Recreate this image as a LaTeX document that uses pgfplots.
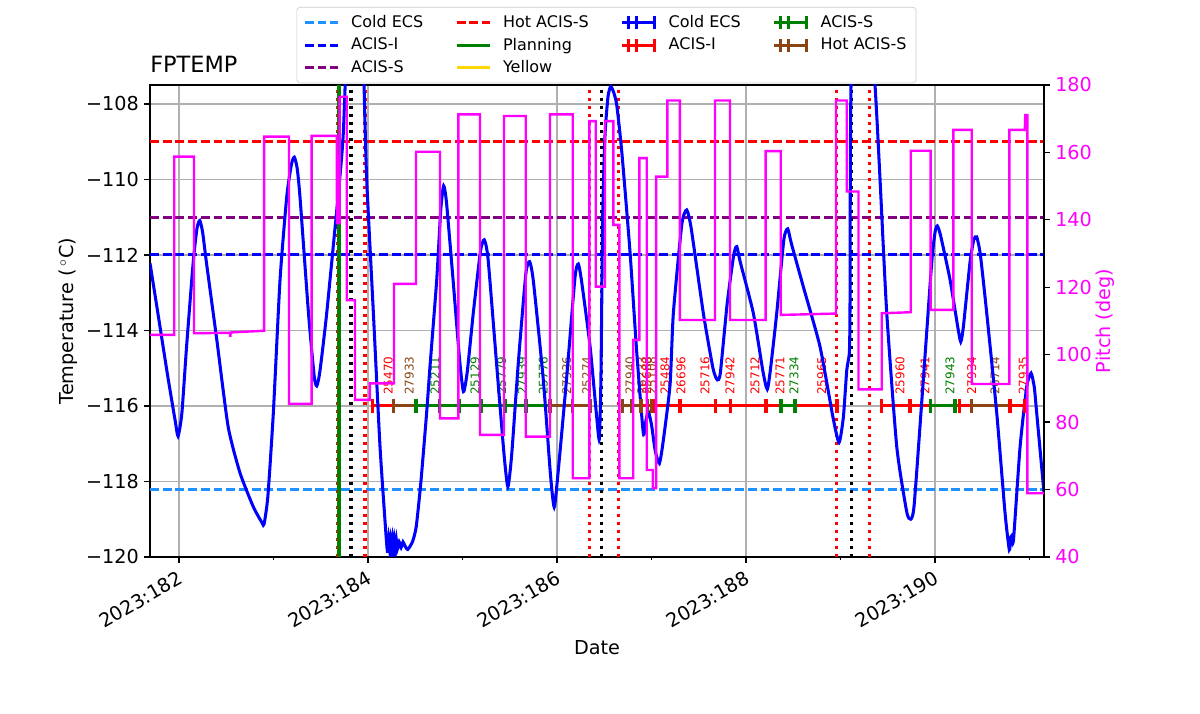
\documentclass[border=0pt]{standalone}
\usepackage{fontspec}
\setmainfont{DejaVu Sans}
\usepackage{pgfplots}
\pgfplotsset{compat=1.18}
\definecolor{dodgerblue}{RGB}{30,144,255}
\definecolor{sbrown}{RGB}{139,69,19}
\definecolor{mgreen}{RGB}{0,128,0}
\definecolor{mpurple}{RGB}{128,0,128}
\definecolor{gold}{RGB}{255,215,0}
\definecolor{mmag}{RGB}{255,0,255}
\definecolor{gridgray}{RGB}{176,176,176}
\definecolor{legframe}{RGB}{204,204,204}
\tikzset{mdash/.style={dash pattern=on 5.55pt off 2.4pt},
  mdot/.style={dash pattern=on 1.9pt off 3.1pt},
  oblab/.style={rotate=90, anchor=west, inner sep=0pt, font=\fontsize{7.5}{9}\selectfont}}
\newcommand{\ebimg}[1]{\addlegendimage{legend image code/.code={\draw[#1,line width=1.9pt] (0pt,0pt)--(21pt,0pt) (4pt,-4pt)--(4pt,4pt) (9pt,-4pt)--(9pt,4pt) (20pt,-4pt)--(20pt,4pt);}}}
\begin{document}
\begin{tikzpicture}
\path[use as bounding box] (-93.75pt,-98.125pt) rectangle (656.25pt,348.125pt);
\begin{axis}[
  at={(0,0)}, anchor=south west,
  scale only axis, width=558.75pt, height=295pt,
  xmin=181.693, xmax=191.153, ymin=-120, ymax=-107.5,
  xtick={182,184,186,188,190},
  xticklabels={2023:182,2023:184,2023:186,2023:188,2023:190},
  minor xtick={183,185,187,189,191},
  ytick={-120,-118,-116,-114,-112,-110,-108},
  yticklabels={−120,−118,−116,−114,−112,−110,−108},
  xtick pos=left, ytick pos=left,
  grid=major, major grid style={color=gridgray, line width=1pt},
  tick align=outside, major tick length=3.5pt, minor tick length=2pt,
  every tick/.style={black, line width=0.8pt},
  axis line style={line width=0.8pt},
  xticklabel style={rotate=30, anchor=north east, font=\fontsize{12}{14}\selectfont},
  yticklabel style={font=\fontsize{12}{14}\selectfont},
  xlabel={Date}, ylabel={Temperature ($\,^\circ$C)},
  every axis x label/.style={at={(axis description cs:0.5,-0.193)}, anchor=center, font=\fontsize{12}{14}\selectfont},
  every axis y label/.style={at={(axis description cs:-0.0917,0.5)}, rotate=90, anchor=center, font=\fontsize{12}{14}\selectfont},
  title={FPTEMP},
  title style={at={(axis description cs:0,1)}, anchor=base west, yshift=1.5pt, inner sep=0pt, font=\fontsize{14}{16}\selectfont},
  legend columns=4,
  legend image code/.code={\draw[#1] (0pt,0pt) -- (21pt,0pt);},
  legend style={at={(axis description cs:0.5106,1.1653)}, anchor=north,
    font=\fontsize{10}{12}\selectfont, draw=legframe, rounded corners=2pt,
    inner xsep=4pt, inner ysep=3pt, row sep=1pt,
    /tikz/every odd column/.append style={column sep=5pt},
    /tikz/every even column/.append style={column sep=18pt}},
  legend cell align=left,
]
% legend (row-major order)
\addlegendimage{dodgerblue, mdash, line width=1.9pt}\addlegendentry{Cold ECS}
\addlegendimage{red, mdash, line width=1.9pt}\addlegendentry{Hot ACIS-S}
\ebimg{blue}\addlegendentry{Cold ECS}
\ebimg{mgreen}\addlegendentry{ACIS-S}
\addlegendimage{blue, mdash, line width=1.9pt}\addlegendentry{ACIS-I}
\addlegendimage{mgreen, line width=1.9pt}\addlegendentry{Planning}
\ebimg{red}\addlegendentry{ACIS-I}
\ebimg{sbrown}\addlegendentry{Hot ACIS-S}
\addlegendimage{mpurple, mdash, line width=1.9pt}\addlegendentry{ACIS-S}
\addlegendimage{gold, line width=1.9pt}\addlegendentry{Yellow}

% limit lines
\addplot[forget plot, dodgerblue, mdash, line width=1.9pt] coordinates {(181.693,-118.2) (191.153,-118.2)};
\addplot[forget plot, blue, mdash, line width=1.9pt] coordinates {(181.693,-112) (191.153,-112)};
\addplot[forget plot, mpurple, mdash, line width=1.9pt] coordinates {(181.693,-111) (191.153,-111)};
\addplot[forget plot, red, mdash, line width=1.9pt] coordinates {(181.693,-109) (191.153,-109)};

% vertical lines
\addplot[forget plot, red, mdot, line width=1.9pt] coordinates {(183.672,-120) (183.672,-107.5)};
\addplot[forget plot, red, mdot, line width=1.9pt] coordinates {(183.968,-120) (183.968,-107.5)};
\addplot[forget plot, red, mdot, line width=1.9pt] coordinates {(186.339,-120) (186.339,-107.5)};
\addplot[forget plot, red, mdot, line width=1.9pt] coordinates {(186.653,-120) (186.653,-107.5)};
\addplot[forget plot, red, mdot, line width=1.9pt] coordinates {(188.956,-120) (188.956,-107.5)};
\addplot[forget plot, red, mdot, line width=1.9pt] coordinates {(189.309,-120) (189.309,-107.5)};
\addplot[forget plot, black, mdot, line width=1.9pt] coordinates {(183.820,-120) (183.820,-107.5)};
\addplot[forget plot, black, mdot, line width=1.9pt] coordinates {(186.466,-120) (186.466,-107.5)};
\addplot[forget plot, black, mdot, line width=1.9pt] coordinates {(189.114,-120) (189.114,-107.5)};
\addplot[forget plot, mgreen, line width=1.9pt] coordinates {(183.693,-120) (183.693,-107.5)};

% obsid segments
\addplot[forget plot, red, line width=1.9pt] coordinates {(184.046,-116) (184.272,-116)};
\addplot[forget plot, sbrown, line width=1.9pt] coordinates {(184.272,-116) (184.508,-116)};
\addplot[forget plot, mgreen, line width=1.9pt] coordinates {(184.508,-116) (185.926,-116)};
\addplot[forget plot, sbrown, line width=1.9pt] coordinates {(185.926,-116) (186.349,-116)};
\addplot[forget plot, sbrown, line width=1.9pt] coordinates {(186.691,-116) (186.889,-116)};
\addplot[forget plot, red, line width=1.9pt] coordinates {(186.889,-116) (188.960,-116)};
\addplot[forget plot, mgreen, line width=1.9pt] coordinates {(188.370,-116) (188.519,-116)};
\addplot[forget plot, red, line width=1.9pt] coordinates {(189.436,-116) (190.952,-116)};
\addplot[forget plot, mgreen, line width=1.9pt] coordinates {(189.954,-116) (190.212,-116)};
\addplot[forget plot, sbrown, line width=1.9pt] coordinates {(190.388,-116) (190.794,-116)};
\addplot[forget plot, red, only marks, mark=|, mark size=4.4pt, mark options={line width=2.2pt}] coordinates {
(184.046,-116) (187.034,-116) (187.302,-116) (187.679,-116) (187.838,-116) (188.212,-116)
(188.960,-116) (189.436,-116) (189.735,-116) (190.257,-116) (190.794,-116) (190.952,-116)};
\addplot[forget plot, sbrown, only marks, mark=|, mark size=4.4pt, mark options={line width=2.2pt}] coordinates {
(184.272,-116) (185.926,-116) (186.162,-116) (186.349,-116) (186.691,-116) (186.790,-116)
(186.889,-116) (186.956,-116) (186.998,-116) (190.388,-116)};
\addplot[forget plot, mgreen, only marks, mark=|, mark size=4.4pt, mark options={line width=2.2pt}] coordinates {
(184.508,-116) (184.754,-116) (184.966,-116) (185.193,-116) (185.447,-116) (185.669,-116)
(188.370,-116) (188.519,-116) (189.954,-116) (190.212,-116)};

% obsid labels
\node[oblab, text=red] at (axis cs:184.215,-115.71) {25470};
\node[oblab, text=sbrown] at (axis cs:184.437,-115.71) {27933};
\node[oblab, text=mgreen] at (axis cs:184.709,-115.71) {25211};
\node[oblab, text=mgreen] at (axis cs:185.132,-115.71) {25129};
\node[oblab, text=mgreen] at (axis cs:185.415,-115.71) {25779};
\node[oblab, text=mgreen] at (axis cs:185.633,-115.71) {27939};
\node[oblab, text=mgreen] at (axis cs:185.855,-115.71) {25776};
\node[oblab, text=sbrown] at (axis cs:186.103,-115.71) {27936};
\node[oblab, text=sbrown] at (axis cs:186.314,-115.71) {25274};
\node[oblab, text=sbrown] at (axis cs:186.772,-115.71) {27940};
\node[oblab, text=sbrown] at (axis cs:186.896,-115.71) {26233};
\node[oblab, text=red] at (axis cs:186.949,-115.71) {25688};
\node[oblab, text=sbrown] at (axis cs:187.002,-115.71) {25108};
\node[oblab, text=red] at (axis cs:187.143,-115.71) {25484};
\node[oblab, text=red] at (axis cs:187.312,-115.71) {26696};
\node[oblab, text=red] at (axis cs:187.566,-115.71) {25716};
\node[oblab, text=red] at (axis cs:187.831,-115.71) {27942};
\node[oblab, text=red] at (axis cs:188.095,-115.71) {25712};
\node[oblab, text=red] at (axis cs:188.360,-115.71) {25771};
\node[oblab, text=mgreen] at (axis cs:188.508,-115.71) {27334};
\node[oblab, text=red] at (axis cs:188.801,-115.71) {25965};
\node[oblab, text=red] at (axis cs:189.630,-115.71) {25960};
\node[oblab, text=red] at (axis cs:189.894,-115.71) {27941};
\node[oblab, text=mgreen] at (axis cs:190.159,-115.71) {27943};
\node[oblab, text=red] at (axis cs:190.388,-115.71) {27934};
\node[oblab, text=sbrown] at (axis cs:190.635,-115.71) {26714};
\node[oblab, text=red] at (axis cs:190.934,-115.71) {27935};

% temperature
\addplot[forget plot, blue, line width=1.9pt, smooth, tension=0.35] coordinates {
(181.693,-112.22) (181.78,-113.6) (181.88,-115.2) (181.96,-116.4) (181.99,-116.8) (182.03,-116.2)
(182.08,-114.43) (182.15,-112.2) (182.19,-111.3) (182.22,-111.09) (182.25,-111.4) (182.29,-112.2)
(182.40,-114.25) (182.52,-116.55) (182.645,-117.77) (182.786,-118.67) (182.88,-119.1) (182.90,-119.13)
(182.94,-118.4) (182.998,-116.19) (183.069,-112.66) (183.14,-110.46) (183.19,-109.6) (183.22,-109.41)
(183.25,-109.7) (183.28,-110.46) (183.37,-113.54) (183.43,-115.2) (183.457,-115.47) (183.49,-115.1)
(183.563,-113.54) (183.70,-110) (183.74,-108.7) (183.79,-105.5) (183.87,-103.5) (183.94,-105.5)
(183.958,-107.5) (183.986,-110) (184.056,-113.5) (184.127,-117.08) (184.197,-119.64)
(184.21,-119.85) (184.22,-119.5) (184.23,-119.85) (184.24,-119.55) (184.25,-119.8) (184.26,-119.5)
(184.27,-119.85) (184.28,-119.55) (184.29,-119.8) (184.30,-119.55) (184.31,-119.8) (184.33,-119.6)
(184.35,-119.75) (184.37,-119.6) (184.39,-119.7) (184.42,-119.8) (184.47,-119.6) (184.51,-119.2)
(184.56,-118.0) (184.62,-116.19) (184.656,-114.95) (184.727,-112.66) (184.77,-110.8) (184.80,-110.17)
(184.83,-110.6) (184.90,-112.66) (184.97,-114.8) (185.01,-115.62) (185.05,-115.1) (185.114,-113.54)
(185.19,-111.9) (185.23,-111.6) (185.27,-112.1) (185.36,-114.87) (185.44,-117.3) (185.48,-118.14)
(185.52,-117.3) (185.59,-114.87) (185.67,-112.5) (185.71,-112.18) (185.75,-112.7) (185.855,-115.31)
(185.93,-117.8) (185.97,-118.68) (186.01,-117.8) (186.10,-115.31) (186.19,-112.6) (186.225,-112.24)
(186.26,-112.7) (186.35,-114.43) (186.42,-116.3) (186.448,-116.88) (186.465,-115.2) (186.483,-111.03)
(186.508,-108.82) (186.54,-107.8) (186.568,-107.54) (186.60,-107.7) (186.632,-108.03) (186.685,-109.26)
(186.772,-111.91) (186.843,-114.56) (186.913,-116.72) (186.94,-116.4) (186.966,-116.15) (187.00,-116.5)
(187.04,-117.2) (187.083,-117.52) (187.12,-117.0) (187.196,-115.44) (187.231,-113.54) (187.32,-111.2)
(187.372,-110.81) (187.42,-111.3) (187.548,-113.54) (187.65,-115.0) (187.696,-115.31) (187.728,-115.13)
(187.80,-113.3) (187.87,-112.0) (187.902,-111.78) (187.94,-112.2) (188.077,-113.54) (188.18,-115.1)
(188.225,-115.56) (188.26,-115.0) (188.325,-113.54) (188.40,-111.6) (188.441,-111.31) (188.48,-111.7)
(188.606,-112.84) (188.783,-114.43) (188.92,-116.3) (188.984,-116.97) (189.03,-116.3) (189.066,-115.05)
(189.093,-114.6) (189.10,-113.5) (189.111,-107.5) (189.20,-101) (189.365,-107.5) (189.418,-110)
(189.489,-113.54) (189.595,-117.08) (189.70,-118.8) (189.743,-119.0) (189.78,-118.6) (189.876,-115.31)
(189.965,-112.2) (190.00,-111.4) (190.024,-111.23) (190.06,-111.5) (190.159,-112.66) (190.24,-113.9)
(190.272,-114.30) (190.30,-113.9) (190.37,-112.2) (190.41,-111.6) (190.441,-111.52) (190.48,-112.0)
(190.547,-113.54) (190.653,-116.19) (190.741,-118.84) (190.786,-119.81) (190.80,-119.5) (190.81,-119.44)
(190.83,-119.55) (190.90,-117.08) (190.97,-115.49) (191.016,-115.13) (191.05,-115.5) (191.076,-116.19)
(191.153,-118.3)};
\end{axis}

\begin{axis}[
  at={(0,0)}, anchor=south west,
  scale only axis, width=558.75pt, height=295pt,
  xmin=181.693, xmax=191.153, ymin=40, ymax=180,
  axis y line*=right, axis x line=none,
  ytick={40,60,80,100,120,140,160,180},
  tick align=outside, major tick length=3.5pt,
  every tick/.style={black, line width=0.8pt},
  axis line style={line width=0.8pt},
  /pgf/number format/assume math mode=true,
  yticklabel style={text=mmag, font=\fontsize{12}{14}\selectfont},
  ylabel={Pitch (deg)},
  every axis y label/.style={at={(axis description cs:1.0682,0.5)}, rotate=90, anchor=center, text=mmag, font=\fontsize{12}{14}\selectfont},
]
\addplot[mmag, line width=1.5pt] coordinates {
(181.693,105.9) (181.95,105.9) (181.95,158.75) (182.159,158.75) (182.159,106.36) (182.54,106.5)
(182.543,105.3) (182.547,106.6) (182.90,107.1) (182.90,164.7) (183.164,164.7) (183.164,85.4)
(183.404,85.4) (183.404,164.9) (183.669,164.9) (183.672,139) (183.70,139) (183.70,176.5)
(183.775,176.5) (183.775,116.2) (183.862,116.2) (183.862,86.6) (184.02,86.6) (184.02,91.5)
(184.275,91.5) (184.275,121.0) (184.508,121.0) (184.508,160.2) (184.762,160.2) (184.762,81.1)
(184.956,81.1) (184.956,171.3) (185.185,171.3) (185.185,76.2) (185.439,76.2) (185.439,170.8)
(185.669,170.8) (185.669,75.7) (185.926,75.7) (185.926,171.3) (186.166,171.3) (186.166,63.35)
(186.342,63.35) (186.342,169.3) (186.41,169.3) (186.41,120.2) (186.508,120.2) (186.508,169.3)
(186.596,169.3) (186.596,138.5) (186.66,138.5) (186.66,63.35) (186.807,63.35) (186.807,104.4)
(186.871,104.4) (186.871,158.3) (186.949,158.3) (186.949,65.8) (187.013,65.8) (187.013,60.4)
(187.048,60.4) (187.048,152.8) (187.167,152.8) (187.167,175.4) (187.30,175.4) (187.30,110.3)
(187.672,110.3) (187.672,175.4) (187.83,175.4) (187.83,110.3) (188.208,110.3) (188.208,160.4)
(188.367,160.4) (188.367,111.8) (188.952,112.2) (188.952,175.4) (189.066,175.4) (189.066,148.4)
(189.19,148.4) (189.19,89.7) (189.436,89.7) (189.436,112.3) (189.743,112.6) (189.743,160.5)
(189.954,160.5) (189.954,113.3) (190.194,113.3) (190.194,166.7) (190.388,166.7) (190.388,91.3)
(190.786,91.3) (190.786,166.7) (190.95,166.7) (190.955,171.1) (190.977,171.1) (190.977,58.9)
(191.153,58.9)};
\end{axis}
\end{tikzpicture}
\end{document}
